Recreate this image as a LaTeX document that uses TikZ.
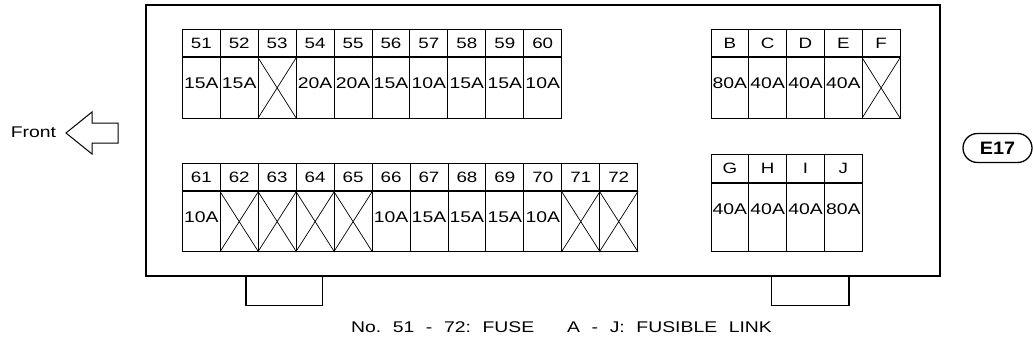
\documentclass[tikz,border=0pt]{standalone}
\usepackage{fontspec}
\setmainfont[FakeStretch=1.25]{Liberation Sans}
\newfontfamily\idfont[FakeStretch=1.1]{Liberation Sans}
\usetikzlibrary{shapes.misc}
\tikzset{
  cellhdr/.style={draw, line width=0.9pt, inner sep=0pt, font=\fontsize{15}{16}\selectfont},
  cellbody/.style={draw, line width=0.9pt, inner sep=0pt, anchor=north},
  amptext/.style={inner sep=0pt, font=\fontsize{15.5}{16}\selectfont},
  crossline/.style={line width=0.7pt},
  plain/.style={inner sep=0pt, font=\fontsize{15.5}{16}\selectfont},
}
\def\xmark{X}
\newcommand\wsp{\hspace{11.6pt}}
\newcommand\fuseblock[6]{%
  \foreach \lab/\amp [count=\i from 0] in {#6}{%
    \pgfmathsetmacro\cx{#1+(\i+0.5)*#5}%
    \pgfmathsetmacro\cy{#2+#3/2}%
    \node[cellhdr, minimum width=#5pt, minimum height=#3pt] (h\lab) at (\cx,\cy) {\lab};
    \node[cellbody, minimum width=#5pt, minimum height=#4pt] (b\lab) at (h\lab.south) {};
    \ifx\amp\xmark
      \draw[crossline] (b\lab.north west) -- (b\lab.south east) (b\lab.north east) -- (b\lab.south west);
    \else
      \node[amptext] (a\lab) at ([yshift=-26pt]b\lab.north) {\amp};
    \fi
  }%
}
\begin{document}
\begin{tikzpicture}[x=1pt,y=-1pt]
\useasboundingbox (0,0) rectangle (1034,345);
% housing
\draw[line width=1.2pt] (146,5) rectangle (940,276);
\coordinate (tabL1) at (246,276); \coordinate (tabL2) at (322.7,276);
\coordinate (tabR1) at (771.7,276); \coordinate (tabR2) at (849,276);
\draw[line width=1.1pt] (tabL1) -- ++(0,29.3) -| (tabL2);
\draw[line width=1.1pt] (tabR1) -- ++(0,29.3) -| (tabR2);
% fuse blocks
\fuseblock{182.3}{29.3}{27.4}{60.6}{37.94}{51/15A,52/15A,53/X,54/20A,55/20A,56/15A,57/10A,58/15A,59/15A,60/10A}
\fuseblock{182.3}{163.3}{27.4}{60}{37.95}{61/10A,62/X,63/X,64/X,65/X,66/10A,67/15A,68/15A,69/15A,70/10A,71/X,72/X}
\fuseblock{711}{29.3}{27.4}{60.6}{37.8}{B/80A,C/40A,D/40A,E/40A,F/X}
\fuseblock{711}{154.3}{28}{68.4}{37.8}{G/40A,H/40A,I/40A,J/80A}
% front arrow
\node[plain] (front) at (33.5,132) {Front};
\coordinate (tip) at (66,133);
\draw[line width=1pt, line join=miter] (tip) -- ++(26,-21) -- ++(0,11) -- ++(26,0) -- ++(0,20) -- ++(-26,0) -- ++(0,11) -- cycle;
% connector id
\node[draw, rounded rectangle, line width=1.3pt, minimum width=69pt, minimum height=29pt, inner sep=0pt, font=\fontsize{18}{19}\idfont\bfseries] (e17) at (997.5,148) {E17};
% caption
\node[plain] (caption) at (561.5,327) {No.\wsp 51\wsp -\wsp 72:\wsp FUSE\hspace{33pt}A\wsp -\wsp J:\wsp FUSIBLE\wsp LINK};
\end{tikzpicture}
\end{document}
